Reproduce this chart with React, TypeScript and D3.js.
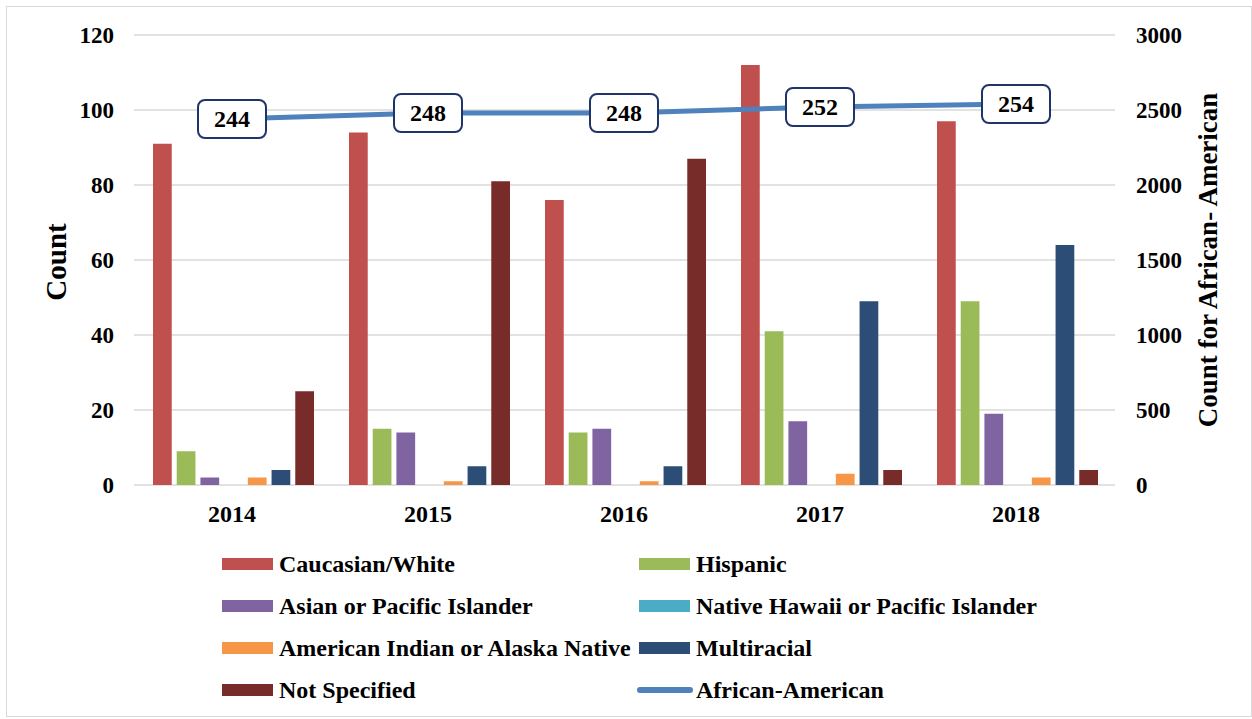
import React, { useEffect, useRef } from 'react';
import * as d3 from 'd3';

const years = ['2014', '2015', '2016', '2017', '2018'];

const caucasian = [91, 94, 76, 112, 97];
const hispanic = [9, 15, 14, 41, 49];
const asian = [2, 14, 15, 17, 19];
const nativeHawaii = [0, 0, 0, 0, 0];
const americanIndian = [2, 1, 1, 3, 2];
const multiracial = [4, 5, 5, 49, 64];
const notSpecified = [25, 81, 87, 4, 4];

const africanAmerican = [2440, 2480, 2480, 2520, 2540];
const africanAmericanLabels = ['244', '248', '248', '252', '254'];

const leftTicks = [0, 20, 40, 60, 80, 100, 120];
const rightTicks = [0, 500, 1000, 1500, 2000, 2500, 3000];

const barSeries = [
  { name: 'Caucasian/White', color: '#C0504D', values: caucasian },
  { name: 'Hispanic', color: '#9BBB59', values: hispanic },
  { name: 'Asian or Pacific Islander', color: '#8064A2', values: asian },
  { name: 'Native Hawaii or Pacific Islander', color: '#4BACC6', values: nativeHawaii },
  { name: 'American Indian or Alaska Native', color: '#F79646', values: americanIndian },
  { name: 'Multiracial', color: '#2C4D75', values: multiracial },
  { name: 'Not Specified', color: '#772C2A', values: notSpecified },
];

const lineColor = '#4F81BD';
const font = '"Liberation Serif", "Times New Roman", serif';

const App: React.FC = () => {
  const ref = useRef<SVGSVGElement | null>(null);

  useEffect(() => {
    if (!ref.current) return;
    const svg = d3.select(ref.current);
    svg.selectAll('*').remove();

    const width = 1252;
    const height = 719;
    const plot = { left: 134, right: 1114, top: 35, bottom: 485 };

    // chart border
    svg.append('rect')
      .attr('x', 6.5).attr('y', 6.5)
      .attr('width', width - 7).attr('height', height - 9)
      .attr('fill', 'white')
      .attr('stroke', '#D9D9D9');

    const x0 = d3.scaleBand<string>().domain(years).range([plot.left, plot.right]).padding(0);
    const x1 = d3.scaleBand<string>()
      .domain(barSeries.map(s => s.name))
      .range([19, x0.bandwidth() - 16])
      .paddingInner(0.21)
      .paddingOuter(0);
    const yL = d3.scaleLinear().domain([0, 120]).range([plot.bottom, plot.top]);
    const yR = d3.scaleLinear().domain([0, 3000]).range([plot.bottom, plot.top]);

    // gridlines
    svg.append('g').selectAll('line')
      .data(leftTicks)
      .enter().append('line')
      .attr('x1', plot.left).attr('x2', plot.right + 1)
      .attr('y1', d => yL(d)).attr('y2', d => yL(d))
      .attr('stroke', '#D9D9D9').attr('stroke-width', 1.5);

    // left axis labels
    svg.append('g').selectAll('text')
      .data(leftTicks)
      .enter().append('text')
      .attr('x', 114).attr('y', d => yL(d))
      .attr('dy', '0.35em')
      .attr('text-anchor', 'end')
      .attr('font-family', font).attr('font-weight', 'bold').attr('font-size', 23)
      .text(d => d);

    // right axis labels
    svg.append('g').selectAll('text')
      .data(rightTicks)
      .enter().append('text')
      .attr('x', 1136).attr('y', d => yR(d))
      .attr('dy', '0.35em')
      .attr('text-anchor', 'start')
      .attr('font-family', font).attr('font-weight', 'bold').attr('font-size', 23)
      .text(d => d);

    // axis titles
    svg.append('text')
      .attr('transform', `translate(66,${(plot.top + plot.bottom) / 2 + 2}) rotate(-90)`)
      .attr('text-anchor', 'middle')
      .attr('font-family', font).attr('font-weight', 'bold').attr('font-size', 29)
      .text('Count');
    svg.append('text')
      .attr('transform', `translate(1217,${(plot.top + plot.bottom) / 2}) rotate(-90)`)
      .attr('text-anchor', 'middle')
      .attr('font-family', font).attr('font-weight', 'bold').attr('font-size', 27)
      .text('Count for African- American');

    // category labels
    svg.append('g').selectAll('text')
      .data(years)
      .enter().append('text')
      .attr('x', d => (x0(d) ?? 0) + x0.bandwidth() / 2)
      .attr('y', 514)
      .attr('dy', '0.35em')
      .attr('text-anchor', 'middle')
      .attr('font-family', font).attr('font-weight', 'bold').attr('font-size', 24)
      .text(d => d);

    // bars
    barSeries.forEach(s => {
      svg.append('g').selectAll('rect')
        .data(s.values.map((v, i) => ({ year: years[i], v })))
        .enter().append('rect')
        .attr('x', d => (x0(d.year) ?? 0) + (x1(s.name) ?? 0))
        .attr('y', d => yL(d.v))
        .attr('width', x1.bandwidth())
        .attr('height', d => plot.bottom - yL(d.v))
        .attr('fill', s.color);
    });

    // African-American line
    const pts = africanAmerican.map((v, i) => ({ year: years[i], v, label: africanAmericanLabels[i] }));
    const line = d3.line<{ year: string; v: number }>()
      .x(d => (x0(d.year) ?? 0) + x0.bandwidth() / 2)
      .y(d => yR(d.v));
    svg.append('path')
      .datum(pts)
      .attr('fill', 'none')
      .attr('stroke', lineColor)
      .attr('stroke-width', 5)
      .attr('stroke-linecap', 'round')
      .attr('d', line);

    const lbl = svg.append('g').selectAll('g')
      .data(pts)
      .enter().append('g')
      .attr('transform', d => `translate(${(x0(d.year) ?? 0) + x0.bandwidth() / 2},${yR(d.v)})`);
    lbl.append('rect')
      .attr('x', -34).attr('y', -19)
      .attr('width', 68).attr('height', 38)
      .attr('rx', 7)
      .attr('fill', 'white')
      .attr('stroke', '#1F3468')
      .attr('stroke-width', 2);
    lbl.append('text')
      .attr('text-anchor', 'middle')
      .attr('dy', '0.35em')
      .attr('font-family', font).attr('font-weight', 'bold').attr('font-size', 24)
      .text(d => d.label);

    // legend
    const legendItems = [
      ...barSeries.map(s => ({ name: s.name, color: s.color, type: 'bar' })),
      { name: 'African-American', color: lineColor, type: 'line' },
    ];
    const legend = svg.append('g').selectAll('g')
      .data(legendItems)
      .enter().append('g')
      .attr('transform', (d, i) => `translate(${i % 2 === 0 ? 222 : 639},${564 + Math.floor(i / 2) * 42})`);
    legend.each(function (d) {
      const g = d3.select(this);
      if (d.type === 'bar') {
        g.append('rect').attr('x', 0).attr('y', -6).attr('width', 51).attr('height', 12).attr('fill', d.color);
      } else {
        g.append('line').attr('x1', 1).attr('x2', 51).attr('y1', 0).attr('y2', 0)
          .attr('stroke', d.color).attr('stroke-width', 6).attr('stroke-linecap', 'round');
      }
      g.append('text')
        .attr('x', 57).attr('y', 0).attr('dy', '0.35em')
        .attr('font-family', font).attr('font-weight', 'bold').attr('font-size', 24)
        .text(d.name);
    });
  }, []);

  return (
    <svg
      ref={ref}
      width={1252}
      height={719}
      style={{ position: 'absolute', left: 0, top: 0, background: 'white' }}
    />
  );
};

export default App;
